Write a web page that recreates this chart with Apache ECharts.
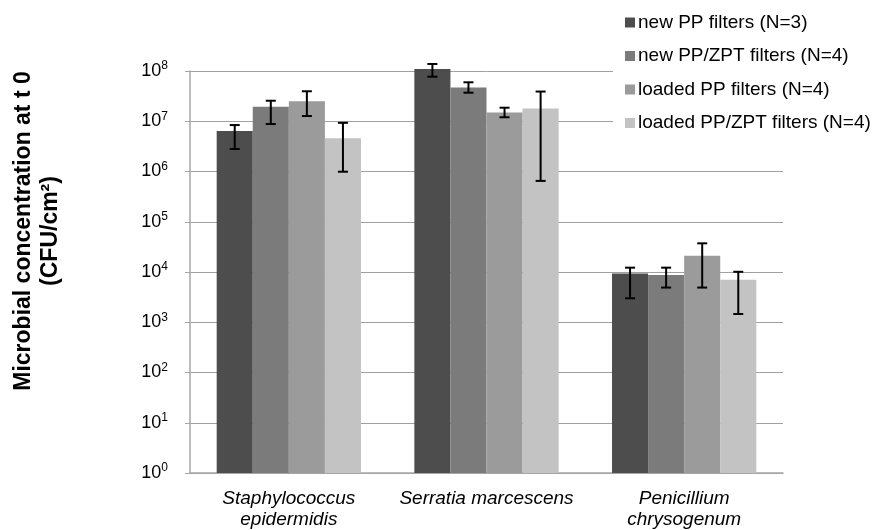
<!DOCTYPE html>
<html>
<head>
<meta charset="utf-8">
<script src="https://cdn.jsdelivr.net/npm/echarts@6/dist/echarts.min.js"></script>
<style>html,body{margin:0;padding:0;background:#fff}#c{width:876px;height:530px}</style>
</head>
<body>
<div id="c"></div>
<script>
var categories = ['Staphylococcus\nepidermidis', 'Serratia marcescens', 'Penicillium\nchrysogenum'];
var seriesNames = ['new PP filters (N=3)', 'new PP/ZPT filters (N=4)', 'loaded PP filters (N=4)', 'loaded PP/ZPT filters (N=4)'];
var newPP = [6.4e6, 1.1e8, 9.3e3];
var newPPZPT = [1.95e7, 4.7e7, 8.7e3];
var loadedPP = [2.5e7, 1.5e7, 2.1e4];
var loadedPPZPT = [4.6e6, 1.8e7, 7.0e3];
var newPPLow = [2.8e6, 7.7e7, 3.0e3];
var newPPHigh = [8.4e6, 1.38e8, 1.22e4];
var newPPZPTLow = [8.8e6, 3.7e7, 4.9e3];
var newPPZPTHigh = [2.56e7, 5.96e7, 1.22e4];
var loadedPPLow = [1.27e7, 1.2e7, 4.9e3];
var loadedPPHigh = [3.95e7, 1.86e7, 3.72e4];
var loadedPPZPTLow = [9.9e5, 6.5e5, 1.46e3];
var loadedPPZPTHigh = [9.3e6, 3.9e7, 1.01e4];
var yTickExponents = [0, 1, 2, 3, 4, 5, 6, 7, 8];

var values = [newPP, newPPZPT, loadedPP, loadedPPZPT];
var lows = [newPPLow, newPPZPTLow, loadedPPLow, loadedPPZPTLow];
var highs = [newPPHigh, newPPZPTHigh, loadedPPHigh, loadedPPZPTHigh];
var colors = ['#4d4d4d', '#7b7b7b', '#9b9b9b', '#c3c3c3'];
var GAP = 0.27;
var FONT = 'Liberation Sans, Arial, sans-serif';

var errData = [];
for (var s = 0; s < 4; s++) {
  for (var c = 0; c < categories.length; c++) {
    errData.push([c, s, lows[s][c], highs[s][c]]);
  }
}

var series = [];
for (var i = 0; i < 4; i++) {
  series.push({
    name: seriesNames[i],
    type: 'bar',
    data: values[i],
    barGap: '0%',
    barCategoryGap: (GAP * 100) + '%',
    clip: false,
    itemStyle: { color: colors[i] }
  });
}
series.push({
  type: 'custom',
  clip: false,
  z: 10,
  data: errData,
  encode: { x: 0, y: [2, 3] },
  renderItem: function (params, api) {
    var cat = api.value(0), si = api.value(1);
    var band = api.size([1, 0])[0];
    var bw = band * (1 - GAP) / 4;
    var off = (si - 1.5) * bw;
    var pLo = api.coord([cat, api.value(2)]);
    var pHi = api.coord([cat, api.value(3)]);
    var x = pLo[0] + off;
    var cap = 5;
    var st = { stroke: '#000', lineWidth: 2 };
    return {
      type: 'group',
      children: [
        { type: 'line', shape: { x1: x, y1: pLo[1], x2: x, y2: pHi[1] }, style: st },
        { type: 'line', shape: { x1: x - cap, y1: pLo[1], x2: x + cap, y2: pLo[1] }, style: st },
        { type: 'line', shape: { x1: x - cap, y1: pHi[1], x2: x + cap, y2: pHi[1] }, style: st }
      ]
    };
  }
});

var chart = echarts.init(document.getElementById('c'), null, { renderer: 'canvas' });
chart.setOption({
  animation: false,
  backgroundColor: '#fff',
  textStyle: { fontFamily: FONT },
  grid: { left: 190, right: 93, top: 71, bottom: 57 },
  legend: {
    data: seriesNames,
    orient: 'vertical',
    left: 613,
    top: 9,
    padding: [4, 8, 4, 12],
    backgroundColor: '#fff',
    itemWidth: 10,
    itemHeight: 10,
    itemGap: 14.5,
    icon: 'rect',
    z: 20,
    textStyle: { fontSize: 19, color: '#000', fontFamily: FONT, padding: [0, 0, 0, -2] }
  },
  xAxis: {
    type: 'category',
    data: categories,
    axisLine: { lineStyle: { color: '#a6a6a6', width: 1.5 } },
    axisTick: { show: false },
    axisLabel: { interval: 0, fontSize: 19, fontStyle: 'italic', color: '#000', lineHeight: 21, margin: 15, fontFamily: FONT }
  },
  yAxis: {
    type: 'log',
    logBase: 10,
    min: 1,
    max: 1e8,
    splitNumber: 8,
    axisLine: { show: true, lineStyle: { color: '#a6a6a6', width: 1.5 } },
    axisTick: { show: true, length: 5, lineStyle: { color: '#a6a6a6' } },
    splitLine: { lineStyle: { color: '#a0a0a0', width: 1 } },
    axisLabel: {
      margin: 22,
      color: '#000',
      formatter: function (v) {
        var e = Math.round(Math.log(v) / Math.LN10);
        return '{b|10}{s|' + yTickExponents[e] + '}';
      },
      rich: {
        b: { fontSize: 18, lineHeight: 22, fontFamily: FONT, color: '#000' },
        s: { fontSize: 12, lineHeight: 14, verticalAlign: 'top', fontFamily: FONT, color: '#000' }
      }
    }
  },
  graphic: [{
    type: 'text',
    x: 37,
    y: 231,
    rotation: Math.PI / 2,
    style: {
      text: 'Microbial concentration at t 0\n(CFU/cm²)',
      font: 'bold 23px ' + FONT,
      fill: '#000',
      align: 'center',
      verticalAlign: 'middle',
      lineHeight: 27
    }
  }],
  series: series
});
</script>
</body>
</html>
